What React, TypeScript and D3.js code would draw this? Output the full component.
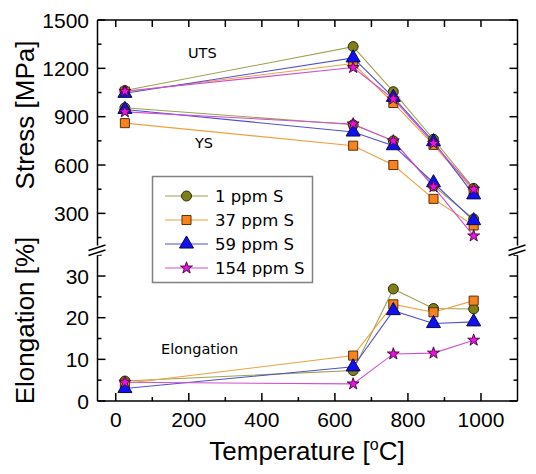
import React from "react";
import * as d3 from "d3";

const temps = [25, 650, 760, 870, 980];
const seriesNames = ["1 ppm S", "37 ppm S", "59 ppm S", "154 ppm S"];
const uts1 = [1062, 1335, 1055, 760, 455];
const uts37 = [1055, 1230, 985, 725, 440];
const uts59 = [1045, 1265, 1020, 745, 415];
const uts154 = [1058, 1205, 1010, 735, 450];
const ys1 = [955, 850, 750, 470, 265];
const ys37 = [860, 720, 600, 390, 225];
const ys59 = [945, 805, 720, 490, 255];
const ys154 = [930, 855, 750, 465, 160];
const el1 = [4.8, 7.3, 26.9, 22.2, 22.1];
const el37 = [4.2, 10.9, 23.2, 21.3, 24.1];
const el59 = [3.0, 8.2, 21.7, 18.6, 19.0];
const el154 = [4.5, 4.1, 11.3, 11.5, 14.6];
const xTicks = [0, 200, 400, 600, 800, 1000];
const xMinor = [100, 300, 500, 700, 900];
const stressTicks = [300, 600, 900, 1200, 1500];
const stressMinor = [150, 450, 750, 1050, 1350];
const elTicks = [0, 10, 20, 30];
const elMinor = [5, 15, 25, 35];

const fills = ["#7f7f1a", "#f7821e", "#1010f0", "#f010e0"];
const lineColors = ["#a0a050", "#f0a040", "#5050d0", "#d050d0"];
const strokes = ["#2a2a08", "#5a300a", "#0a0a4a", "#4a0a4a"];
const symbols = [d3.symbolCircle, d3.symbolSquare, d3.symbolTriangle, d3.symbolStar];
const symSizes = [78, 82, 85, 44];

const L = 97.5, R = 517.5, T = 20, B = 401;
const x = d3.scaleLinear().domain([-50, 1100]).range([L, R]);
const yTop = d3.scaleLinear().domain([100, 1500]).range([245.6, T]);
const yBot = d3.scaleLinear().domain([0, 35]).range([B, 255.2]);

const utsAll = [uts1, uts37, uts59, uts154];
const ysAll = [ys1, ys37, ys59, ys154];
const elAll = [el1, el37, el59, el154];

export default function App() {
  const lineTop = d3.line<number>().x((_, i) => x(temps[i])).y((d) => yTop(d));
  const lineBot = d3.line<number>().x((_, i) => x(temps[i])).y((d) => yBot(d));
  const sym = (k: number) => d3.symbol().type(symbols[k]).size(symSizes[k])() as string;
  const tickFont = "'Liberation Sans', Arial, sans-serif";
  const annFont = "'DejaVu Sans', Verdana, sans-serif";

  const breakMarks = (cx: number) => (
    <g>
      <rect x={cx - 3} y={245.6} width={6} height={9.6} fill="white" />
      <line x1={cx - 9} y1={250.5} x2={cx + 8} y2={245} stroke="black" strokeWidth={1.5} />
      <line x1={cx - 9} y1={255.5} x2={cx + 8} y2={250} stroke="black" strokeWidth={1.5} />
    </g>
  );

  return (
    <svg width={536} height={474} style={{ position: "absolute", left: 0, top: 0 }}>
      <rect width={536} height={474} fill="white" />
      {[0, 1, 2, 3].map((k) => (
        <g key={"l" + k} fill="none" stroke={lineColors[k]} strokeWidth={1.1}>
          <path d={lineTop(utsAll[k]) as string} />
          <path d={lineTop(ysAll[k]) as string} />
          <path d={lineBot(elAll[k]) as string} />
        </g>
      ))}
      {[0, 1, 2, 3].map((k) => (
        <g key={"m" + k} fill={fills[k]} stroke={strokes[k]} strokeWidth={1}>
          {utsAll[k].map((v, i) => (
            <path key={"u" + i} d={sym(k)} transform={`translate(${x(temps[i])},${yTop(v)})`} />
          ))}
          {ysAll[k].map((v, i) => (
            <path key={"y" + i} d={sym(k)} transform={`translate(${x(temps[i])},${yTop(v)})`} />
          ))}
          {elAll[k].map((v, i) => (
            <path key={"e" + i} d={sym(k)} transform={`translate(${x(temps[i])},${yBot(v)})`} />
          ))}
        </g>
      ))}
      <g stroke="black" strokeWidth={1.5} fill="none">
        <line x1={L} y1={T} x2={R} y2={T} />
        <line x1={L} y1={B} x2={R} y2={B} />
        <line x1={L} y1={T} x2={L} y2={B} />
        <line x1={R} y1={T} x2={R} y2={B} />
        {xTicks.map((t) => (
          <g key={"xt" + t}>
            <line x1={x(t)} x2={x(t)} y1={B} y2={B - 8} />
            <line x1={x(t)} x2={x(t)} y1={T} y2={T + 7} />
          </g>
        ))}
        {xMinor.map((t) => (
          <g key={"xm" + t}>
            <line x1={x(t)} x2={x(t)} y1={B} y2={B - 4} />
            <line x1={x(t)} x2={x(t)} y1={T} y2={T + 7} />
          </g>
        ))}
        {stressTicks.map((t) => (
          <g key={"st" + t}>
            <line x1={L} x2={L + 8} y1={yTop(t)} y2={yTop(t)} />
            <line x1={R} x2={R - 8} y1={yTop(t)} y2={yTop(t)} />
          </g>
        ))}
        {stressMinor.map((t) => (
          <g key={"sm" + t}>
            <line x1={L} x2={L + 4} y1={yTop(t)} y2={yTop(t)} />
            <line x1={R} x2={R - 4} y1={yTop(t)} y2={yTop(t)} />
          </g>
        ))}
        {elTicks.map((t) => (
          <g key={"et" + t}>
            <line x1={L} x2={L + 8} y1={yBot(t)} y2={yBot(t)} />
            <line x1={R} x2={R - 8} y1={yBot(t)} y2={yBot(t)} />
          </g>
        ))}
        {elMinor.map((t) => (
          <g key={"em" + t}>
            <line x1={L} x2={L + 4} y1={yBot(t)} y2={yBot(t)} />
            <line x1={R} x2={R - 4} y1={yBot(t)} y2={yBot(t)} />
          </g>
        ))}
      </g>
      {breakMarks(L)}
      {breakMarks(R)}
      <g fontFamily={tickFont} fontSize={21} fill="black">
        {xTicks.map((t) => (
          <text key={"xl" + t} x={x(t)} y={427} textAnchor="middle">{t}</text>
        ))}
        {stressTicks.map((t) => (
          <text key={"sl" + t} x={89} y={yTop(t)} dy="0.36em" textAnchor="end">{t}</text>
        ))}
        {elTicks.map((t) => (
          <text key={"el" + t} x={89} y={yBot(t)} dy="0.36em" textAnchor="end">{t}</text>
        ))}
      </g>
      <g fontFamily={tickFont} fontSize={26} fill="black">
        <text transform="translate(34,115) rotate(-90)" textAnchor="middle">Stress [MPa]</text>
        <text transform="translate(34,320.5) rotate(-90)" textAnchor="middle">Elongation [%]</text>
        <text x={307} y={460} textAnchor="middle">
          Temperature [<tspan fontSize={16} dy={-10}>o</tspan><tspan dy={10}>C]</tspan>
        </text>
      </g>
      <g fontFamily={annFont} fontSize={14.5} fill="black">
        <text x={188} y={58}>UTS</text>
        <text x={195} y={148}>YS</text>
        <text x={161} y={354}>Elongation</text>
      </g>
      <g>
        <rect x={152.5} y={176.5} width={160} height={106} fill="white" stroke="#808080" strokeWidth={1.5} />
        {seriesNames.map((n, k) => {
          const yy = 196 + k * 24;
          return (
            <g key={"lg" + k}>
              <line x1={165} x2={208} y1={yy} y2={yy} stroke={lineColors[k]} strokeWidth={1.1} />
              <path d={sym(k)} transform={`translate(186.5,${yy})`} fill={fills[k]} stroke={strokes[k]} strokeWidth={1} />
              <text x={215} y={yy} dy="0.36em" fontFamily={annFont} fontSize={16.5} fill="black">{n}</text>
            </g>
          );
        })}
      </g>
    </svg>
  );
}
